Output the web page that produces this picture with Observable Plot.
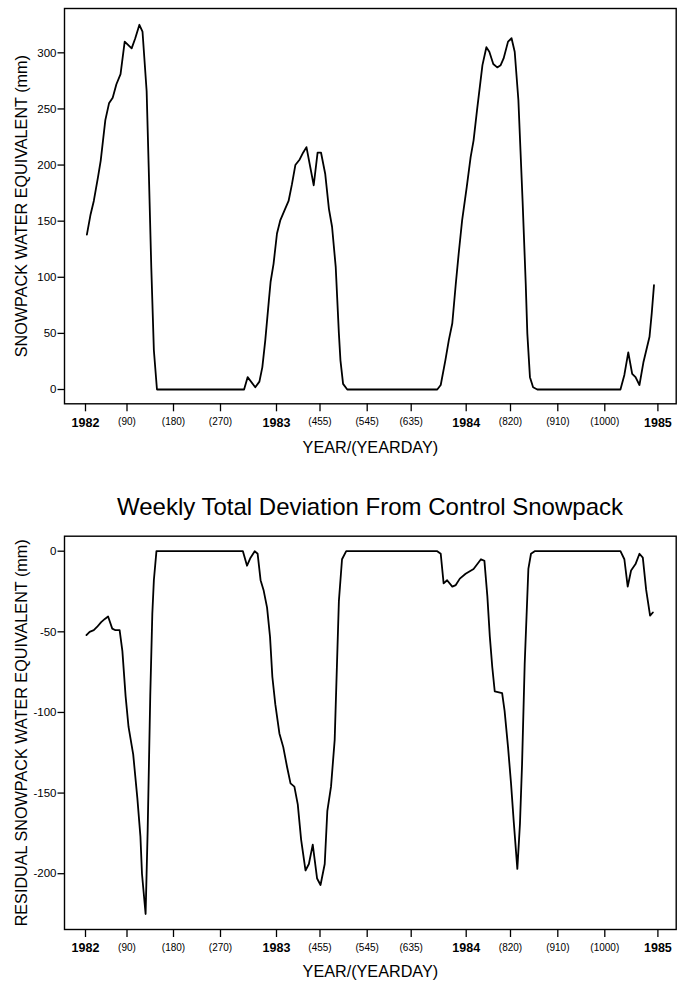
<!DOCTYPE html>
<html>
<head>
<meta charset="utf-8">
<script src="https://cdn.jsdelivr.net/npm/d3@7"></script>
<script src="https://cdn.jsdelivr.net/npm/@observablehq/plot@0.6"></script>
<style>
  body { margin: 0; background: white; font-family: "Liberation Sans", Arial, Helvetica, sans-serif; color: black; }
  #title { height: 60px; box-sizing: border-box; padding: 35px 7px 0 64px; font-size: 24px; line-height: 24px; text-align: center; white-space: nowrap; }
</style>
</head>
<body>
<div id="top"></div>
<div id="title">Weekly Total Deviation From Control Snowpack</div>
<div id="bot"></div>
<script>
// ---- Data (day counted from 1 Jan 1982) ----
const topDay = [3,11,18,27,33,38,43,51,59,67,76,85,99,106,114,120,128,132,137,142,148,
  310,316,329,336,341,346,352,355,360,366,373,382,390,397,404,413,420,427,442,450,457,465,472,478,485,491,494,499,507,
  680,686,694,700,706,712,717,723,731,739,745,752,763,771,777,785,793,800,806,815,822,828,835,839,843,849,852,857,863,871,
  1028,1035,1042,1049,1055,1062,1069,1080,1084,1088];
const topSWE = [138,156,168,189,204,222,240,255,260,272,281,310,304,313,325,319,266,198,109,35,0,
  0,11,2,7,20,44,79,96,112,139,151,160,168,183,200,205,211,216,182,211,211,192,161,145,109,50,26,5,0,
  0,4,26,44,59,94,121,151,180,207,222,249,289,305,301,290,287,289,295,310,313,301,258,213,168,94,50,11,2,0,
  0,13,33,14,11,4,24,47,68,93];

const botDay = [2,9,18,25,34,42,49,58,65,74,80,87,93,102,110,116,119,126,130,135,139,142,147,
  308,315,321,328,333,338,343,349,354,358,363,371,379,387,394,402,409,416,425,432,440,449,456,464,469,476,483,491,497,505,
  680,686,691,697,706,712,719,729,745,760,767,773,778,783,788,803,808,815,821,826,833,838,842,847,854,859,866,
  1028,1035,1041,1047,1055,1062,1068,1074,1081,1086];
const botResid = [-52,-50,-49,-47,-44,-42,-40.5,-48,-49,-49,-62,-90,-109,-126,-153,-177,-200,-225,-173,-90,-39,-18,0,
  0,-9,-4,0,-1.6,-18,-24,-35,-53,-78,-95,-113,-121.5,-134,-144,-146,-157,-179,-198,-194,-182,-203,-207,-194,-161,-146,-117,-31,-5,0,
  0,-1.6,-20,-18,-22,-21,-17,-14,-11,-5,-6,-28,-53,-72,-87,-88,-99,-121.5,-144,-167,-197,-169,-132,-70,-11,-1.6,0,
  0,-5,-22,-12,-8,-1.6,-4,-24,-40,-38];

// ---- Tick labels ----
const yearTicks = [0, 365, 730, 1095];
const yearLabels = ["1982", "1983", "1984", "1985"];
const dayTicks = [90, 180, 270, 455, 545, 635, 820, 910, 1000];
const dayLabels = ["(90)", "(180)", "(270)", "(455)", "(545)", "(635)", "(820)", "(910)", "(1000)"];
const topYTicks = [0, 50, 100, 150, 200, 250, 300];
const botYTicks = [0, -50, -100, -150, -200];

const xLabel = "YEAR/(YEARDAY)";
const topYLabel = "SNOWPACK WATER EQUIVALENT (mm)";
const botYLabel = "RESIDUAL SNOWPACK WATER EQUIVALENT (mm)";

// piecewise x scale matching the original (irregular) tick placement
const xDomain = [0, 90, 180, 270, 365, 455, 545, 635, 730, 820, 910, 1000, 1095];
const xRange = [85, 126.5, 173, 220, 276, 319.5, 366.7, 410.7, 465.7, 510, 557.3, 604.3, 657.4];

const topData = topDay.map((d, i) => ({day: d, v: topSWE[i]}));
const botData = botDay.map((d, i) => ({day: d, v: botResid[i]}));

const FONT = '"Liberation Sans", Arial, Helvetica, sans-serif';

function panel({data, height, marginTop, marginBottom, yDomain, yTicks, yLabel, xLabelDy}) {
  const yearMap = new Map(yearTicks.map((t, i) => [t, yearLabels[i]]));
  const dayMap = new Map(dayTicks.map((t, i) => [t, dayLabels[i]]));
  return Plot.plot({
    width: 683,
    height,
    marginLeft: 64,
    marginRight: 7.3,
    marginTop,
    marginBottom,
    style: {fontFamily: FONT, color: "black", background: "white", overflow: "visible"},
    x: {type: "linear", domain: xDomain, range: xRange, label: null},
    y: {domain: yDomain, label: null},
    marks: [
      Plot.axisY(yTicks, {tickSize: 6.5, tickPadding: 1.5, fontSize: 11.5, strokeWidth: 1.3, tickFormat: d => String(d), label: null}),
      Plot.axisX(yearTicks, {tickSize: 8, tickPadding: 6, fontSize: 12.5, fontWeight: "bold", strokeWidth: 1.3, tickFormat: d => yearMap.get(d), label: null}),
      Plot.axisX(dayTicks, {tickSize: 8, tickPadding: 6.5, fontSize: 10, strokeWidth: 1.3, tickFormat: d => dayMap.get(d), label: null}),
      Plot.frame({stroke: "black", strokeWidth: 1.4}),
      Plot.line(data, {x: "day", y: "v", stroke: "black", strokeWidth: 1.8}),
      Plot.text([xLabel], {text: d => d, frameAnchor: "bottom", dy: xLabelDy, lineAnchor: "top", fontSize: 16.2, fill: "black"}),
      Plot.text([yLabel], {text: d => d, frameAnchor: "left", rotate: -90, dx: -49, lineAnchor: "top", textAnchor: "middle", fontSize: 16.2, fill: "black"})
    ]
  });
}

document.getElementById("top").append(panel({
  data: topData, height: 460, marginTop: 8, marginBottom: 56.7,
  yDomain: [-12.74, 339.5], yTicks: topYTicks, yLabel: topYLabel, xLabelDy: 37.5
}));
document.getElementById("bot").append(panel({
  data: botData, height: 462, marginTop: 15.7, marginBottom: 53,
  yDomain: [-234.6, 9.3], yTicks: botYTicks, yLabel: botYLabel, xLabelDy: 35.5
}));
</script>
</body>
</html>
